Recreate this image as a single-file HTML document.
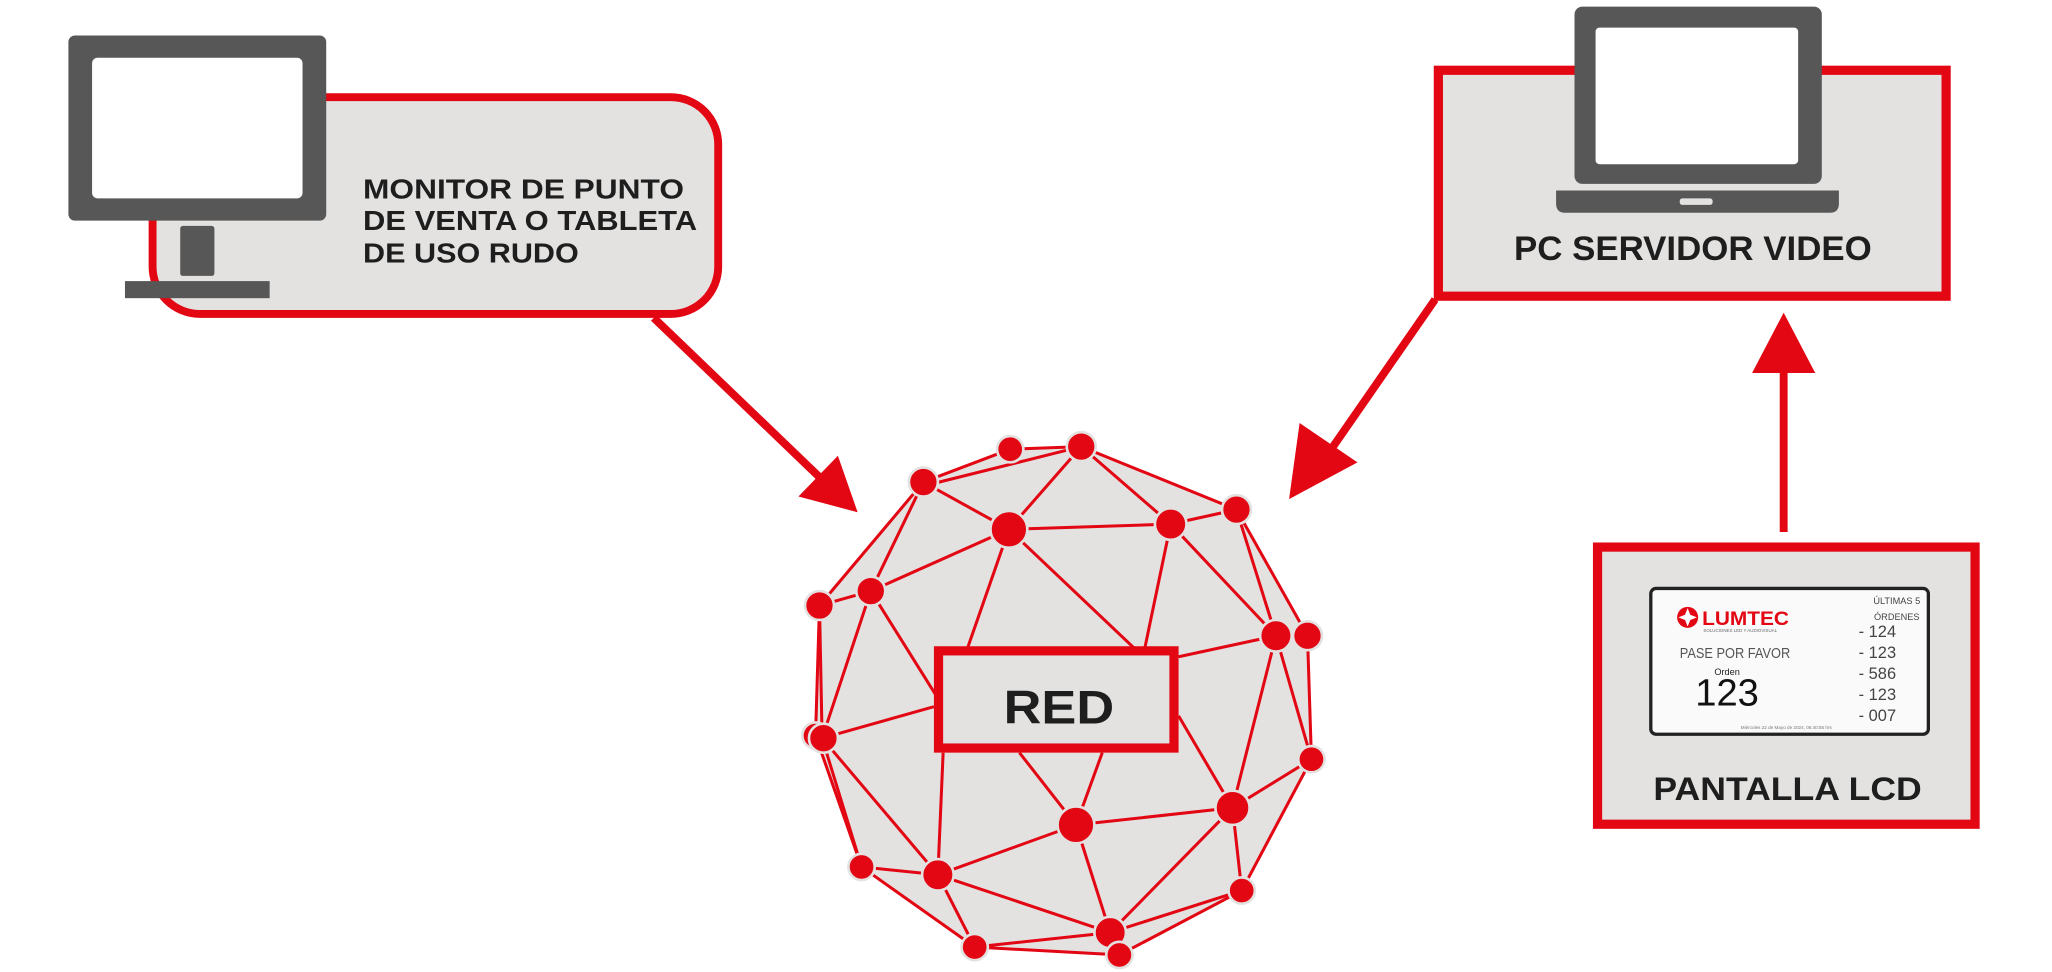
<!DOCTYPE html>
<html><head><meta charset="utf-8"><style>html,body{margin:0;padding:0;background:#fff}svg{display:block}</style></head>
<body>
<svg width="2052" height="972" viewBox="0 0 1560 740" preserveAspectRatio="none" xmlns="http://www.w3.org/2000/svg" font-family="Liberation Sans, sans-serif">
<!-- monitor box -->
<rect x="116" y="74" width="430" height="165" rx="36" fill="#e3e2e1" stroke="#e30613" stroke-width="6"/>
<rect x="52" y="27" width="196" height="141" rx="5" fill="#575757"/>
<rect x="70" y="44" width="160" height="107" rx="4" fill="#fff"/>
<rect x="137" y="172" width="26" height="38" rx="2" fill="#575757"/>
<rect x="95" y="214" width="110" height="13" fill="#575757"/>
<g fill="#1e1e1e" font-weight="bold" font-size="21">
<text x="276" y="151" textLength="244" lengthAdjust="spacingAndGlyphs">MONITOR DE PUNTO</text>
<text x="276" y="175" textLength="254" lengthAdjust="spacingAndGlyphs">DE VENTA O TABLETA</text>
<text x="276" y="200" textLength="164" lengthAdjust="spacingAndGlyphs">DE USO RUDO</text>
</g>
<!-- server box -->
<rect x="1093.5" y="53.5" width="386" height="172" fill="#e3e2e1" stroke="#e30613" stroke-width="7"/>
<rect x="1197" y="5" width="188" height="135" rx="6" fill="#575757"/>
<rect x="1213" y="21" width="154" height="104" rx="3" fill="#fff"/>
<path d="M1183 145 H1398 V155 Q1398 162 1391 162 H1190 Q1183 162 1183 155 Z" fill="#575757"/>
<rect x="1277" y="151" width="25" height="5" rx="2" fill="#e3e2e1"/>
<text x="1151" y="198" font-size="26" font-weight="bold" fill="#1e1e1e" textLength="272" lengthAdjust="spacingAndGlyphs">PC SERVIDOR VIDEO</text>
<!-- arrows -->
<g stroke="#e30613" stroke-width="6" fill="none">
<line x1="497" y1="242" x2="630" y2="370"/>
<line x1="1091" y1="228" x2="1010" y2="345"/>
<line x1="1356" y1="405" x2="1356" y2="278"/>
</g>
<g fill="#e30613">
<polygon points="652,390 607,378 637,347"/>
<polygon points="980,380 988,322 1032,352"/>
<polygon points="1356,238 1332,284 1380,284"/>
</g>
<!-- LCD box -->
<rect x="1214.5" y="416.5" width="287" height="211" fill="#e3e2e1" stroke="#e30613" stroke-width="7"/>
<rect x="1255" y="448" width="211" height="111" rx="4" fill="#fafafa" stroke="#222" stroke-width="2.5"/>
<circle cx="1283" cy="470" r="8" fill="#e30613"/>
<polygon points="1283,463 1285,468 1290,470 1285,472 1283,477 1281,472 1276,470 1281,468" fill="#fff"/>
<text x="1294" y="476" font-size="15" font-weight="bold" fill="#e30613" textLength="66" lengthAdjust="spacingAndGlyphs">LUMTEC</text>
<text x="1295" y="481" font-size="3.5" fill="#666" textLength="56" lengthAdjust="spacingAndGlyphs">SOLUCIONES LED Y AUDIOVISUAL</text>
<text x="1277" y="501" font-size="11" fill="#555" textLength="84" lengthAdjust="spacingAndGlyphs">PASE POR FAVOR</text>
<text x="1313" y="514" font-size="7" fill="#222" text-anchor="middle">Orden</text>
<text x="1313" y="537" font-size="29" fill="#111" text-anchor="middle">123</text>
<g font-size="7" fill="#444" text-anchor="middle"><text x="1442" y="460">ÚLTIMAS 5</text><text x="1442" y="472">ÓRDENES</text></g>
<g font-size="12.5" fill="#444">
<text x="1413" y="485">-  124</text><text x="1413" y="501">-  123</text><text x="1413" y="517">-  586</text><text x="1413" y="533">-  123</text><text x="1413" y="549">-  007</text>
</g>
<text x="1358" y="555" font-size="3.5" fill="#777" text-anchor="middle">Miércoles 22 de Mayo de 2024,  06:40:55 hrs</text>
<text x="1257" y="609" font-size="25" font-weight="bold" fill="#1e1e1e" textLength="204" lengthAdjust="spacingAndGlyphs">PANTALLA LCD</text>
<!-- network sphere -->
<polygon points="702,367 768,342 822,340 940,388 994,484 997,578 944,678 851,727 741,721 655,660 620,560 623,461" fill="#e3e2e1"/>
<g stroke="#e30613" stroke-width="2.3">
<line x1="702" y1="367" x2="768" y2="342"/><line x1="702" y1="370" x2="822" y2="340"/><line x1="768" y1="342" x2="822" y2="340"/>
<line x1="702" y1="367" x2="767" y2="403"/><line x1="822" y1="340" x2="767" y2="403"/><line x1="822" y1="340" x2="940" y2="388"/>
<line x1="822" y1="340" x2="890" y2="399"/><line x1="767" y1="403" x2="890" y2="399"/><line x1="890" y1="399" x2="940" y2="388"/>
<line x1="702" y1="367" x2="662" y2="450"/><line x1="702" y1="367" x2="623" y2="461"/><line x1="662" y1="450" x2="767" y2="403"/>
<line x1="662" y1="450" x2="623" y2="461"/><line x1="767" y1="403" x2="735" y2="495"/><line x1="767" y1="403" x2="866" y2="497"/>
<line x1="890" y1="399" x2="970" y2="484"/><line x1="890" y1="399" x2="870" y2="495"/><line x1="940" y1="388" x2="970" y2="484"/>
<line x1="940" y1="388" x2="994" y2="484"/><line x1="970" y1="484" x2="896" y2="500"/><line x1="662" y1="450" x2="625" y2="562"/>
<line x1="662" y1="450" x2="712" y2="530"/><line x1="623" y1="461" x2="625" y2="562"/><line x1="623" y1="461" x2="620" y2="560"/>
<line x1="625" y1="562" x2="710" y2="538"/><line x1="970" y1="484" x2="937" y2="615"/><line x1="994" y1="484" x2="997" y2="578"/>
<line x1="970" y1="484" x2="997" y2="578"/><line x1="937" y1="615" x2="997" y2="578"/><line x1="937" y1="615" x2="896" y2="545"/>
<line x1="937" y1="615" x2="818" y2="628"/><line x1="937" y1="615" x2="944" y2="678"/><line x1="937" y1="615" x2="844" y2="710"/>
<line x1="818" y1="628" x2="775" y2="573"/><line x1="818" y1="628" x2="838" y2="573"/><line x1="818" y1="628" x2="713" y2="666"/>
<line x1="818" y1="628" x2="844" y2="710"/><line x1="713" y1="666" x2="717" y2="573"/><line x1="625" y1="562" x2="713" y2="666"/>
<line x1="625" y1="562" x2="655" y2="660"/><line x1="620" y1="560" x2="655" y2="660"/><line x1="655" y1="660" x2="713" y2="666"/>
<line x1="655" y1="660" x2="741" y2="721"/><line x1="713" y1="666" x2="741" y2="721"/><line x1="713" y1="666" x2="844" y2="710"/>
<line x1="741" y1="721" x2="844" y2="710"/><line x1="741" y1="721" x2="851" y2="727"/><line x1="844" y1="710" x2="944" y2="678"/>
<line x1="851" y1="727" x2="944" y2="678"/><line x1="997" y1="578" x2="944" y2="678"/>
</g>
<g fill="#e30613" stroke="#e3e2e1" stroke-width="2">
<circle cx="768" cy="342" r="10"/><circle cx="822" cy="340" r="11"/><circle cx="702" cy="367" r="11"/><circle cx="940" cy="388" r="11"/>
<circle cx="767" cy="403" r="14"/><circle cx="890" cy="399" r="12"/><circle cx="662" cy="450" r="11"/><circle cx="623" cy="461" r="11"/>
<circle cx="970" cy="484" r="12"/><circle cx="994" cy="484" r="11"/><circle cx="620" cy="560" r="10"/><circle cx="626" cy="562" r="11"/>
<circle cx="997" cy="578" r="10"/><circle cx="937" cy="615" r="13"/><circle cx="818" cy="628" r="14"/><circle cx="655" cy="660" r="10"/>
<circle cx="713" cy="666" r="12"/><circle cx="944" cy="678" r="10"/><circle cx="844" cy="710" r="12"/><circle cx="741" cy="721" r="10"/>
<circle cx="851" cy="727" r="10"/><circle cx="866" cy="497" r="5"/>
</g>
<rect x="713.5" y="495.5" width="179" height="74" fill="#e3e2e1" stroke="#e30613" stroke-width="7"/>
<text x="763" y="551" font-size="36" font-weight="bold" fill="#1e1e1e" textLength="84" lengthAdjust="spacingAndGlyphs">RED</text>
</svg>
</body></html>
